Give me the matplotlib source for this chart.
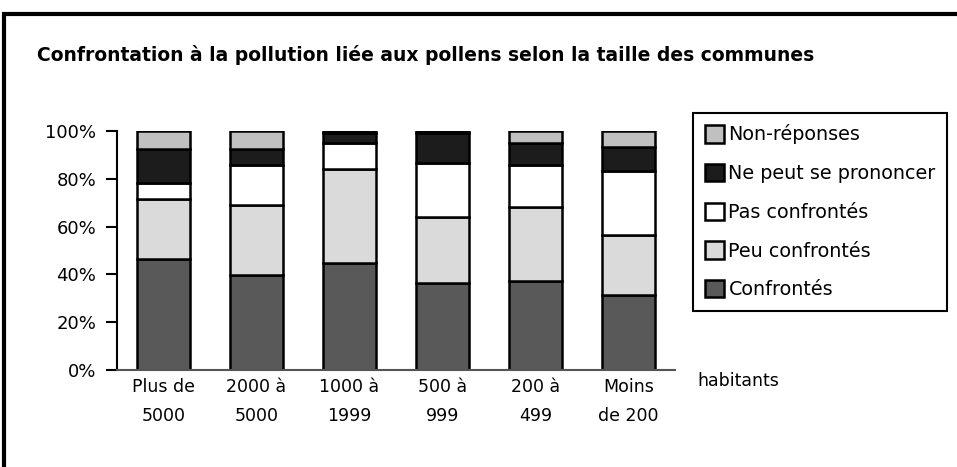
import numpy as np
import matplotlib.pyplot as plt
from matplotlib.patches import Rectangle

categories = ["Plus de\n5000", "2000 à\n5000", "1000 à\n1999", "500 à\n999", "200 à\n499", "Moins\nde 200"]
series_names = ["Confrontés", "Peu confrontés", "Pas confrontés", "Ne peut se prononcer", "Non-réponses"]
confrontes = [46.4, 39.9, 44.8, 36.4, 37.1, 31.2]
peu_confrontes = [25.2, 29.3, 39.4, 27.7, 31.2, 25.2]
pas_confrontes = [6.7, 16.5, 10.6, 22.6, 17.4, 26.8]
ne_peut = [14.3, 6.9, 4.5, 12.3, 9.4, 10.2]
non_reponses = [7.4, 7.4, 0.7, 1.0, 4.9, 6.6]

colors = ["#595959", "#dadada", "#ffffff", "#1c1c1c", "#c0c0c0"]

plt.rcParams["font.family"] = ["DejaVu Sans"]

fig = plt.figure(figsize=(9.57, 4.67), dpi=100)
# cadre extérieur (coupé à droite et en bas)
fig.patches.append(Rectangle((4 / 957, -0.1), 1.1, 1 - 14 / 467 + 0.1, transform=fig.transFigure,
                             fill=False, edgecolor="black", linewidth=3))
fig.text(37 / 957, 1 - 55 / 467, "Confrontation à la pollution liée aux pollens selon la taille des communes",
         fontsize=13.5, fontweight="bold", va="center", ha="left")

ax = fig.add_axes([117 / 957, 1 - 370 / 467, 558 / 957, 239 / 467])
x = np.arange(len(categories))
data = [confrontes, peu_confrontes, pas_confrontes, ne_peut, non_reponses]
bottom = np.zeros(len(categories))
handles = []
for name, vals, c in zip(series_names, data, colors):
    b = ax.bar(x, vals, 0.58, bottom=bottom, color=c, edgecolor="black", linewidth=1.8, label=name)
    handles.append(b)
    bottom += np.array(vals)

ax.set_xlim(-0.5, 5.5)
ax.set_ylim(0, 100)
ax.set_yticks([0, 20, 40, 60, 80, 100])
ax.set_yticklabels(["0%", "20%", "40%", "60%", "80%", "100%"], fontsize=13)
ax.set_xticks(x)
ax.set_xticklabels(categories, fontsize=12.5, linespacing=1.75)
ax.tick_params(axis="x", length=0, pad=6)
ax.tick_params(axis="y", length=8, width=1.5, direction="out", pad=7)
for s in ["top", "right"]:
    ax.spines[s].set_visible(False)
ax.spines["left"].set_linewidth(1.5)
ax.spines["bottom"].set_linewidth(1.5)
ax.spines["bottom"].set_color("#555555")

fig.text(697 / 957, 1 - 381 / 467, "habitants", fontsize=12.5, va="center", ha="left")

leg = fig.legend(handles[::-1], series_names[::-1], loc="upper left",
                 bbox_to_anchor=(693 / 957, 1 - 113 / 467), fontsize=13.8,
                 handlelength=1.0, handleheight=1.0, handletextpad=0.25,
                 labelspacing=1.02, borderpad=0.6, borderaxespad=0,
                 fancybox=False, frameon=True, framealpha=1)
leg.get_frame().set_edgecolor("black")
leg.get_frame().set_linewidth(1.5)

fig.savefig("out.png", dpi=100)
